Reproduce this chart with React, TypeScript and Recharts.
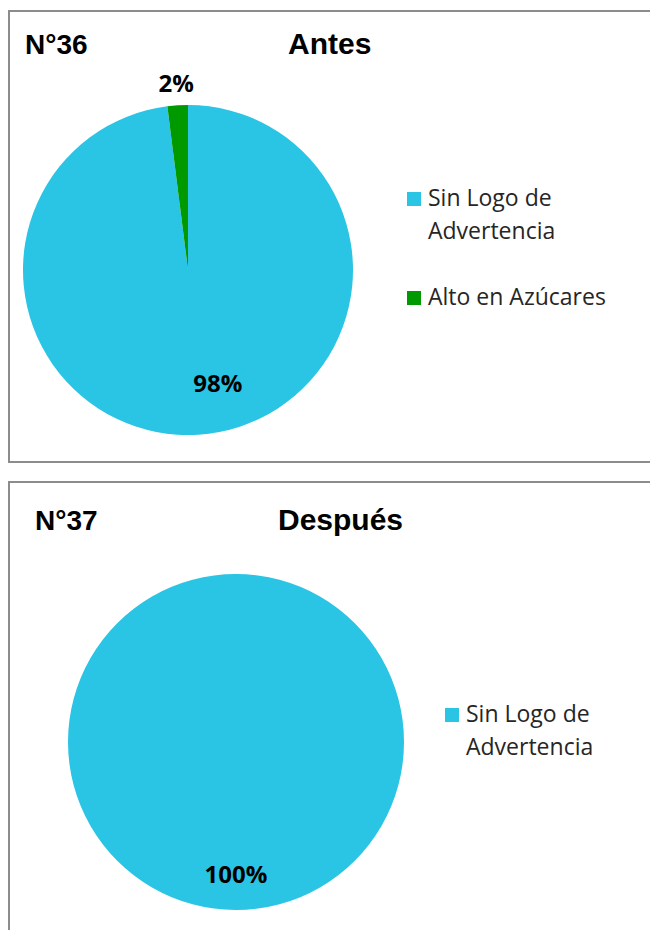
import React from 'react';
import { PieChart, Pie, Cell, Legend } from 'recharts';

const categoriesAntes = ['Sin Logo de Advertencia', 'Alto en Azúcares'];
const valuesAntes = [98, 2];
const categoriesDespues = ['Sin Logo de Advertencia'];
const valuesDespues = [100];
const chartNumbers = ['N°36', 'N°37'];
const chartTitles = ['Antes', 'Después'];

const colorByCategory: Record<string, string> = {
  'Sin Logo de Advertencia': '#2AC4E4',
  'Alto en Azúcares': '#009A00',
};

const dataAntes = categoriesAntes.map((name, i) => ({ name, value: valuesAntes[i] }));
const dataDespues = categoriesDespues.map((name, i) => ({ name, value: valuesDespues[i] }));

const RADIAN = Math.PI / 180;
const labelStyle: React.CSSProperties = {
  fontFamily: '"Open Sans", sans-serif',
  fontWeight: 700,
  fontSize: 24,
  fill: '#000',
};

function makeLabel(insideRatio: number, insideShift: number, outsideGap: number) {
  return (props: any) => {
    const { cx, cy, midAngle, outerRadius, percent, index } = props;
    const inside = percent > 0.5;
    const angle = inside ? midAngle + insideShift : midAngle;
    const r = inside ? outerRadius * insideRatio : outerRadius + outsideGap;
    const x = cx + r * Math.cos(-angle * RADIAN);
    const y = cy + r * Math.sin(-angle * RADIAN);
    return (
      <text key={`lbl-${index}`} x={x} y={y} textAnchor="middle" dominantBaseline="central" style={labelStyle}>
        {`${Math.round(percent * 100)}%`}
      </text>
    );
  };
}

const LegendContent = (props: any) => {
  const { payload = [], order = [] } = props;
  const items = [...payload].sort((a: any, b: any) => order.indexOf(a.value) - order.indexOf(b.value));
  return (
    <div style={{ fontFamily: '"Open Sans", sans-serif', fontSize: 23, lineHeight: '33px', color: '#262626' }}>
      {items.map((p: any, i: number) => (
        <div key={i} style={{ display: 'flex', marginBottom: 33 }}>
          <div style={{ width: 14, height: 14, background: p.color, marginTop: 11, marginRight: 7, flexShrink: 0 }} />
          <div style={{ width: 190 }}>{p.value}</div>
        </div>
      ))}
    </div>
  );
};

const numberStyle: React.CSSProperties = {
  fontFamily: '"Liberation Sans", Arial, sans-serif',
  fontWeight: 700,
  fontSize: 28,
  fill: '#000',
};
const titleStyle: React.CSSProperties = { ...numberStyle, fontSize: 30 };

export default function App() {
  return (
    <div style={{ position: 'absolute', left: 0, top: 0, width: 650, height: 930, overflow: 'hidden', background: '#fff' }}>
      <div style={{ position: 'absolute', left: 8, top: 10, width: 700, height: 453, border: '2px solid #8C8C8C', boxSizing: 'border-box' }} />
      <div style={{ position: 'absolute', left: 8, top: 481, width: 700, height: 500, border: '2px solid #8C8C8C', boxSizing: 'border-box' }} />

      <div style={{ position: 'absolute', left: 0, top: 0 }}>
        <PieChart width={650} height={470} margin={{ top: 0, right: 0, bottom: 0, left: 0 }}>
          <Pie
            data={dataAntes}
            dataKey="value"
            nameKey="name"
            cx={188}
            cy={270}
            outerRadius={165}
            startAngle={90}
            endAngle={-270}
            stroke="none"
            isAnimationActive={false}
            labelLine={false}
            label={makeLabel(0.705, 11.3, 23)}
          >
            {dataAntes.map((d, i) => (
              <Cell key={i} fill={colorByCategory[d.name]} />
            ))}
          </Pie>
          <Legend
            layout="vertical"
            align="right"
            verticalAlign="top"
            content={<LegendContent order={categoriesAntes} />}
            wrapperStyle={{ left: 407, top: 180.5, width: 230, right: 'auto' }}
          />
        </PieChart>
      </div>

      <div style={{ position: 'absolute', left: 0, top: 470 }}>
        <PieChart width={650} height={460} margin={{ top: 0, right: 0, bottom: 0, left: 0 }}>
          <Pie
            data={dataDespues}
            dataKey="value"
            nameKey="name"
            cx={236}
            cy={272}
            outerRadius={168}
            startAngle={90}
            endAngle={-270}
            stroke="none"
            isAnimationActive={false}
            labelLine={false}
            label={makeLabel(0.78, 0, 23)}
          >
            {dataDespues.map((d, i) => (
              <Cell key={i} fill={colorByCategory[d.name]} />
            ))}
          </Pie>
          <Legend
            layout="vertical"
            align="right"
            verticalAlign="top"
            content={<LegendContent order={categoriesDespues} />}
            wrapperStyle={{ left: 445, top: 226.5, width: 230, right: 'auto' }}
          />
        </PieChart>
      </div>

      <svg width={650} height={930} style={{ position: 'absolute', left: 0, top: 0, pointerEvents: 'none' }}>
        <text x={25} y={54} style={numberStyle}>{chartNumbers[0]}</text>
        <text x={288} y={54} style={titleStyle}>{chartTitles[0]}</text>
        <text x={35} y={530} style={numberStyle}>{chartNumbers[1]}</text>
        <text x={278} y={530} style={titleStyle}>{chartTitles[1]}</text>
      </svg>
    </div>
  );
}
